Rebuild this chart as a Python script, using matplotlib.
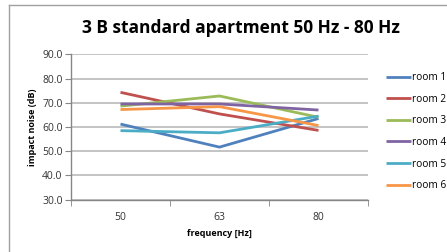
import numpy as np
import matplotlib
matplotlib.use("Agg")
import matplotlib.pyplot as plt
from matplotlib.lines import Line2D

freqs = ["50", "63", "80"]
room1 = [61.2, 51.7, 63.5]
room2 = [74.3, 65.4, 58.6]
room3 = [68.6, 72.8, 64.0]
room4 = [69.5, 69.5, 67.0]
room5 = [58.5, 57.6, 64.5]
room6 = [67.2, 68.4, 60.6]
names = ["room 1", "room 2", "room 3", "room 4", "room 5", "room 6"]
colors = ["#4F81BD", "#C0504D", "#9BBB59", "#8064A2", "#4BACC6", "#F79646"]

plt.rcParams['font.family'] = ['Open Sans', 'DejaVu Sans']
fig = plt.figure(figsize=(4.47, 2.52), dpi=100)
W, H = 447, 252
ax = fig.add_axes([71 / W, 1 - 199.7 / H, (368 - 71) / W, (199.7 - 54.3) / H])

x = np.arange(len(freqs))
for ys, nm, c in zip([room1, room2, room3, room4, room5, room6], names, colors):
    ax.plot(x, ys, color=c, lw=2.0, label=nm, solid_capstyle='butt')

ax.set_xlim(-0.5, 2.5)
ax.set_ylim(30, 90)
ax.set_yticks(np.arange(30, 91, 10))
ax.set_yticklabels(["%.1f" % v for v in np.arange(30, 91, 10)], fontsize=7.5, color="#333333")
ax.set_xticks(x)
ax.set_xticklabels(freqs, fontsize=7.5, color="#333333")
ax.tick_params(axis='x', which='major', length=0, pad=9)
ax.set_xticks([-0.5, 0.5, 1.5, 2.5], minor=True)
ax.tick_params(axis='x', which='minor', length=4, color="#868686", direction='out')
ax.tick_params(axis='y', length=4, color="#868686", pad=2)
ax.grid(axis='y', color="#BFBFBF", lw=1.3)
ax.set_axisbelow(True)
for s in ['top', 'right']:
    ax.spines[s].set_visible(False)
for s in ['left', 'bottom']:
    ax.spines[s].set_color("#868686")
    ax.spines[s].set_linewidth(1.0)

ax.set_xlabel("frequency [Hz]", fontsize=6.5, fontweight='bold', labelpad=4)
ax.set_ylabel("impact noise (dB)", fontsize=6.5, fontweight='bold', labelpad=4)
fig.text(241 / W, 1 - 28 / H, "3 B standard apartment 50 Hz - 80 Hz",
         ha='center', va='center', fontsize=12.5, fontweight='bold')

ax.legend(loc='upper left', bbox_to_anchor=(382 / W, 1 - 68 / H),
          bbox_transform=fig.transFigure, frameon=False, fontsize=7.3,
          handlelength=2.5, handletextpad=0.1, labelspacing=1.05, borderaxespad=0)

fig.add_artist(Line2D([9 / W, 9 / W], [0, 1 - 5 / H], transform=fig.transFigure,
                      color="#A0A0A0", lw=1.0))
fig.add_artist(Line2D([9 / W, 1], [1 - 5 / H, 1 - 5 / H], transform=fig.transFigure,
                      color="#A0A0A0", lw=1.0))

fig.savefig("out.png", dpi=100)
